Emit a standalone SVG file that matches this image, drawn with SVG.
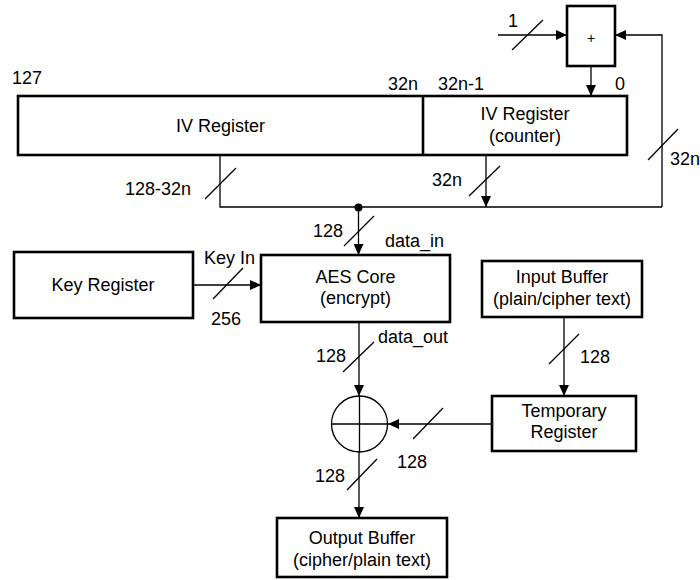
<svg xmlns="http://www.w3.org/2000/svg" width="700" height="580" viewBox="0 0 700 580">
<style>
text{font-family:"Liberation Sans",Arial,sans-serif;font-size:18px;fill:#000}
.box{fill:#fff;stroke:#000;stroke-width:2.6}
.w{fill:none;stroke:#000;stroke-width:1.3}
.c{text-anchor:middle}
</style>
<defs>
<marker id="arr" markerWidth="11" markerHeight="10" refX="11" refY="5" orient="auto" markerUnits="userSpaceOnUse"><path d="M0,0 L11,5 L0,10 z" fill="#000"/></marker>
</defs>
<rect width="700" height="580" fill="#fff"/>
<g id="connectors">
<path class="w" d="M498,35 H567" marker-end="url(#arr)"/>
<path class="w" d="M662,207 V35 H615" marker-end="url(#arr)"/>
<path class="w" d="M591,66 V96" marker-end="url(#arr)"/>
<path class="w" d="M220,155 V207 H662"/>
<path class="w" d="M486,155 V207" marker-end="url(#arr)"/>
<circle cx="358.5" cy="207.5" r="4" fill="#000"/>
<path class="w" d="M358.5,207 V255" marker-end="url(#arr)"/>
<path class="w" d="M193,285 H261" marker-end="url(#arr)"/>
<path class="w" d="M359,322 V396" marker-end="url(#arr)"/>
<path class="w" d="M564,317 V396" marker-end="url(#arr)"/>
<path class="w" d="M492,424 H388" marker-end="url(#arr)"/>
<path class="w" d="M359,452 V518" marker-end="url(#arr)"/>
<g class="w">
<line x1="512" y1="50" x2="543" y2="20"/>
<line x1="648" y1="160" x2="678" y2="129"/>
<line x1="205" y1="199" x2="236" y2="168"/>
<line x1="469" y1="196" x2="500" y2="166"/>
<line x1="344" y1="246" x2="374" y2="216"/>
<line x1="213" y1="299" x2="243" y2="268"/>
<line x1="343" y1="372" x2="374" y2="342"/>
<line x1="549" y1="364" x2="579" y2="334"/>
<line x1="413" y1="439" x2="443" y2="408"/>
<line x1="347" y1="490" x2="377" y2="459"/>
</g>
<text x="508" y="27">1</text>
<text x="670" y="165">32n</text>
<text x="125" y="195">128-32n</text>
<text x="432" y="186">32n</text>
<text x="313" y="237">128</text>
<text x="385" y="247">data_in</text>
<text x="204" y="264">Key In</text>
<text x="211" y="325">256</text>
<text x="378" y="343">data_out</text>
<text x="316" y="362">128</text>
<text x="580" y="363">128</text>
<text x="397" y="468">128</text>
<text x="315" y="482">128</text>
</g>
<g id="adder">
<rect class="box" x="567" y="6" width="48" height="60"/>
<text class="c" x="591" y="43" style="font-size:14px">+</text>
</g>
<g id="iv-register">
<rect class="box" x="18" y="96" width="609" height="59"/>
<line x1="423" y1="96" x2="423" y2="155" stroke="#000" stroke-width="2.6"/>
<text class="c" x="220.5" y="132">IV Register</text>
<text class="c" x="525" y="120">IV Register</text>
<text class="c" x="525" y="142">(counter)</text>
<text x="12" y="84">127</text>
<text x="388" y="90">32n</text>
<text x="438" y="90">32n-1</text>
<text x="615" y="90">0</text>
</g>
<g id="key-register">
<rect class="box" x="14" y="252" width="179" height="66"/>
<text class="c" x="103" y="291">Key Register</text>
</g>
<g id="aes-core">
<rect class="box" x="261" y="255" width="189" height="67"/>
<text class="c" x="355.5" y="283">AES Core</text>
<text class="c" x="355.5" y="304">(encrypt)</text>
</g>
<g id="input-buffer">
<rect class="box" x="482" y="261" width="160" height="56"/>
<text class="c" x="562" y="283">Input Buffer</text>
<text class="c" x="562" y="305">(plain/cipher text)</text>
</g>
<g id="temporary-register">
<rect class="box" x="492" y="396" width="144" height="55"/>
<text class="c" x="564" y="417">Temporary</text>
<text class="c" x="564" y="438">Register</text>
</g>
<g id="xor">
<circle class="w" cx="359.5" cy="424" r="28"/>
<path class="w" d="M331.5,424 H387.5 M359.5,396 V452"/>
</g>
<g id="output-buffer">
<rect class="box" x="277" y="518" width="170" height="59"/>
<text class="c" x="362" y="544">Output Buffer</text>
<text class="c" x="362" y="566">(cipher/plain text)</text>
</g>
</svg>
